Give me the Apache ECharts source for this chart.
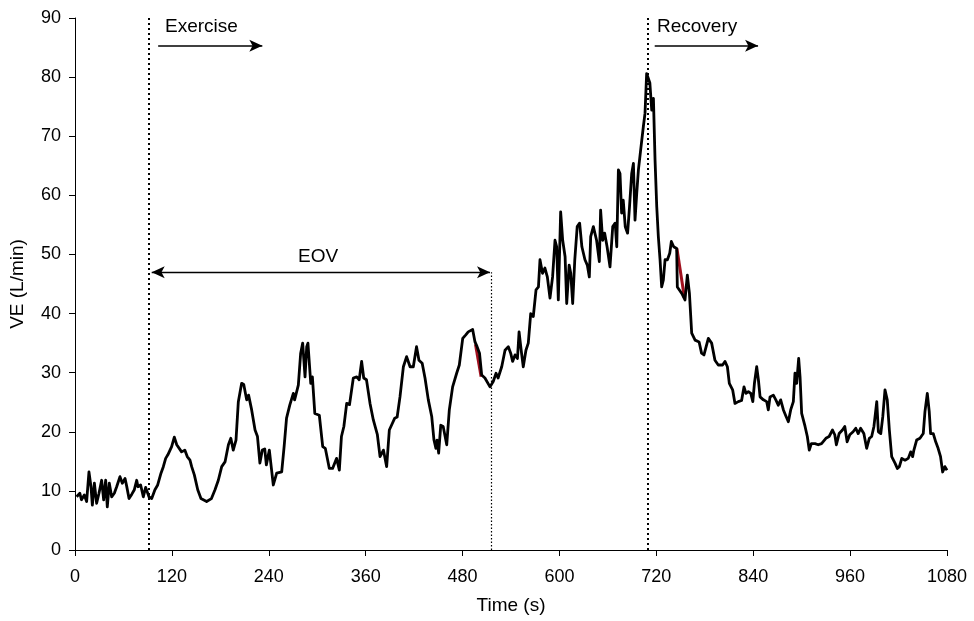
<!DOCTYPE html>
<html>
<head>
<meta charset="utf-8">
<script src="https://cdn.jsdelivr.net/npm/echarts@6/dist/echarts.min.js"></script>
<style>html,body{margin:0;padding:0;background:#fff}#c{width:974px;height:621px}</style>
</head>
<body>
<div id="c"></div>
<script>
// Time (s)
var times = [2,6,8,11.5,14.4,17.3,19.8,21.5,24,26.8,29.7,33,35.5,38,40,42.5,45.4,48.7,51.6,55.7,58.6,62,64,66.9,70.2,73.5,76.4,78,81.3,84.6,87.5,91.6,95,99,102.4,106.5,109.4,112.3,115,119.7,123,126,128,132,136,139,142.4,144.5,147.8,152,156,163,169,173.4,177.5,181.7,185.8,190,193,196,199.4,202.3,206.4,209,212.6,215,218.8,223,226,229,232,235,237,240.7,243,245.6,249.8,256,259,262,266,270.4,272,276.6,279.5,282,284.9,287,288.5,292,294,297,302.6,306.8,310,315,319,324,327.4,330,333,336.5,340,344.7,349,352,355,357.6,361,365.4,369.5,374.5,377.8,382,386,389.3,392,396,399,402.5,406.7,410.7,415,419,423,426,430,433.5,437.6,441.8,444.6,447,448.5,450.4,453,456,458,460.4,463.6,467.7,472.7,476,480.2,484,487,492.5,495.4,498,501,503.7,507.7,514,518,521.5,524,528.5,532.6,536.7,539.6,542,545,548,550,552.6,555.2,558.5,561.4,564.4,567.6,571,574,575.9,579,582,585,588.3,591.5,594.5,596.6,598.6,601.5,604,607,609,612,614,616.4,619,622,625,627.8,631.6,634.5,637,638.7,642,646,649.4,651,653.5,656,659,662.6,666,669,671,673,675,677,679,681.5,684.4,686.8,689.5,691.6,693.6,695.7,697.8,700.6,703.9,706,708,710,712,714.3,716.4,718.4,720.5,722.5,724.6,726.6,728.7,730.8,733.7,736.6,738.6,741.5,745.2,746,751.5,755.5,758.4,761,763.8,768,773,776,779,784.4,788.5,792.6,796.7,802,805,808,810.4,814.5,817.4,821.5,825.6,828.6,831,834,837,839.5,841.5,844.3,846.4,848.5,852.6,856.7,858.7,860.8,864.9,868,871,874,877.4,880.7,883.5,886.4,889.7,891.7,893.8,896.3,898,900,904.2,907,909.4,912,916.5,920.5,924.6,930,934,938.2,941,943,946.4,950.5,953.4,956.3,959.6,963.7,967,970,973,975.4,977,980.5,983.8,986.7,989.5,993,995,998,1000.5,1003.2,1006,1008.6,1011.5,1015.6,1018.5,1021,1024,1028,1032,1035,1037.5,1039,1042.4,1046.5,1050.6,1052.7,1055.6,1058,1059.7,1063,1066,1069,1072,1074.6,1077.4,1080];
// VE (L/min)
var ve = [9.0,9.6,8.5,9.3,8.2,13.2,10.7,7.6,11.3,7.9,9.6,11.8,8.5,11.8,7.3,11.3,9.0,9.6,10.7,12.4,11.3,12.1,10.8,8.7,9.4,10.2,11.8,10.7,11,9.0,10.6,9.0,8.7,10.2,11,13,14.1,15.5,16.1,17.5,19.1,17.8,18,16.6,16.9,15.8,15.2,14.1,12.7,10.2,8.7,8.2,8.7,10.2,11.8,14.1,14.9,17.8,18.9,16.9,18.6,25.1,28.2,28,25.4,26.2,23.7,20.3,19.2,14.7,16.9,17.1,14.4,16.9,14.1,11,13,13.2,17.5,22.3,24.5,26.5,25.4,27.9,33.3,35,29.3,34.4,35,28.2,29.3,23.1,22.8,17.5,17.2,13.8,13.8,15.5,13.5,19.2,20.9,24.8,24.6,29.1,29.3,28.8,31.9,29.1,28.8,24.8,22,19.5,15.8,16.9,14.1,20.3,21.1,22.3,22.5,25.9,31,32.7,31,31,34.4,32.1,31.6,29.1,25.4,22.6,18.6,17.2,18.6,16.4,21.1,20.9,19.5,17.8,23.7,27.6,29.9,31.3,35.8,36.4,36.9,37.3,35.2,34.4,33.3,29.6,29.1,27.6,28.5,29.9,29.1,31,33.8,34.4,33.3,31.9,33,32.4,36.9,33.8,31,33.8,35,40,39.5,44,44.5,49.1,46.8,47.7,46.2,42.6,46.2,52.4,51.3,42.3,57.2,52.4,49.6,41.7,48.2,46.8,41.7,49.1,54.7,55.3,51.3,49.1,48.2,46.2,53,54.7,52.4,48.8,57.5,52.4,53.6,51.3,47.9,54.7,55.3,51.3,64.3,63.7,57,59.2,54.7,53.6,58.1,63.7,65.4,55.8,60.3,64.3,67.7,71.6,73.9,80.6,79.8,79,74.4,76.4,66,58.1,53,49.1,44.5,45.7,49.1,49.1,50.2,52.2,51.3,51,44.5,43.4,42.3,46.5,43.4,36.7,35.5,35.2,33.3,33,35.8,35,32.1,31.3,31.3,31.9,31,28.2,27.1,24.8,25.1,25.3,27.6,26.5,26.8,26.5,25.1,28.2,31,28.8,25.9,25.4,25.1,23.7,25.9,26.2,25.4,24.5,25.4,23.7,22.6,21.7,23.7,25.1,29.9,28.2,32.4,29.3,23.1,20.9,19.2,16.9,18,18,17.8,18,18.9,19.2,20.3,19.5,17.8,19.7,20.3,20.9,18.3,19.5,20,20.6,19.7,20.6,20.9,19.7,17.2,18.9,19.2,20.9,25.1,20,19.7,22.6,27.1,25.4,20.3,15.8,14.7,13.8,14.1,15.5,15.2,15.5,16.6,15.8,16.9,18.6,18.9,19.7,23.4,26.5,23.4,19.7,19.7,18.3,17.2,15.8,13.2,14.1,13.5];
// small red traces visible under the black line
var redTimes = [[496, 503], [745.5, 755]];
var redVals = [[34.8, 29.3], [51.0, 42.5]];
var exerciseT = 91.6, recoveryT = 709, eovEndT = 516, eovStartT = 95, eovLevel = 47;
var arrowLevel = 85.3;

var lineData = times.map(function(t,i){return [t, ve[i]];});
var redSeries = redTimes.map(function(ts,k){
  return {type:'line', data: ts.map(function(t,i){return [t, redVals[k][i]];}),
    symbol:'none', lineStyle:{color:'#a0101e', width:3}, z:1, silent:true, animation:false};
});

var font = 'Liberation Sans, Arial, Helvetica, sans-serif';
var FS = 19;
var chart = echarts.init(document.getElementById('c'));
var option = {
  animation:false,
  grid:{left:75, right:27, top:18, bottom:71, containLabel:false},
  xAxis:{type:'value', min:0, max:1080, interval:120,
    name:'Time (s)', nameLocation:'middle', nameGap:46,
    nameTextStyle:{fontFamily:font, fontSize:FS, color:'#000'},
    axisLine:{lineStyle:{color:'#000', width:1}},
    axisTick:{show:true, length:6, lineStyle:{color:'#000'}},
    axisLabel:{fontFamily:font, fontSize:18, color:'#000', margin:18, formatter:function(v){return String(v);}},
    splitLine:{show:false}},
  yAxis:{type:'value', min:0, max:90, interval:10,
    name:'VE (L/min)', nameLocation:'middle', nameGap:48, nameRotate:90,
    nameTextStyle:{fontFamily:font, fontSize:FS, color:'#000'},
    axisLine:{show:true, lineStyle:{color:'#000', width:1}},
    axisTick:{show:true, length:6, lineStyle:{color:'#000'}},
    axisLabel:{fontFamily:font, fontSize:18, color:'#000', margin:14},
    splitLine:{show:false}},
  series: redSeries.concat([{
    type:'line', data: lineData, symbol:'none', z:3,
    lineStyle:{color:'#000', width:2.8, join:'round'},
    markLine:{silent:true, symbol:['none','none'], animation:false,
      label:{show:false},
      data:[
        [{coord:[exerciseT,0], lineStyle:{type:[2,3], width:2, color:'#000'}},{coord:[exerciseT,90]}],
        [{coord:[recoveryT,0], lineStyle:{type:[2,3], width:2, color:'#000'}},{coord:[recoveryT,90]}],
        [{coord:[eovEndT,0], lineStyle:{type:[1.5,2], width:1.2, color:'#000'}},{coord:[eovEndT,eovLevel]}],
        [{coord:[eovStartT,eovLevel], symbol:'arrow', symbolSize:[9,13], lineStyle:{type:'solid', width:1.3, color:'#000'}},{coord:[eovEndT-2,eovLevel], symbol:'arrow', symbolSize:[9,13]}],
        [{coord:[103,arrowLevel], symbol:'none', lineStyle:{type:'solid', width:1.5, color:'#000'}},{coord:[232,arrowLevel], symbol:'arrow', symbolSize:[9,13]}],
        [{coord:[718,arrowLevel], symbol:'none', lineStyle:{type:'solid', width:1.5, color:'#000'}},{coord:[846,arrowLevel], symbol:'arrow', symbolSize:[9,13]}]
      ]},
    markPoint:{silent:true, symbol:'circle', symbolSize:0, animation:false,
      label:{show:true, position:[0,0], align:'left', verticalAlign:'middle', fontFamily:font, fontSize:FS, color:'#000'},
      data:[
        {coord:[111.5,88.5], label:{formatter:'Exercise'}},
        {coord:[720.8,88.5], label:{formatter:'Recovery'}},
        {coord:[301,49.6], label:{formatter:'EOV', align:'center'}}
      ]}
  }])
};
chart.setOption(option);
</script>
</body>
</html>
